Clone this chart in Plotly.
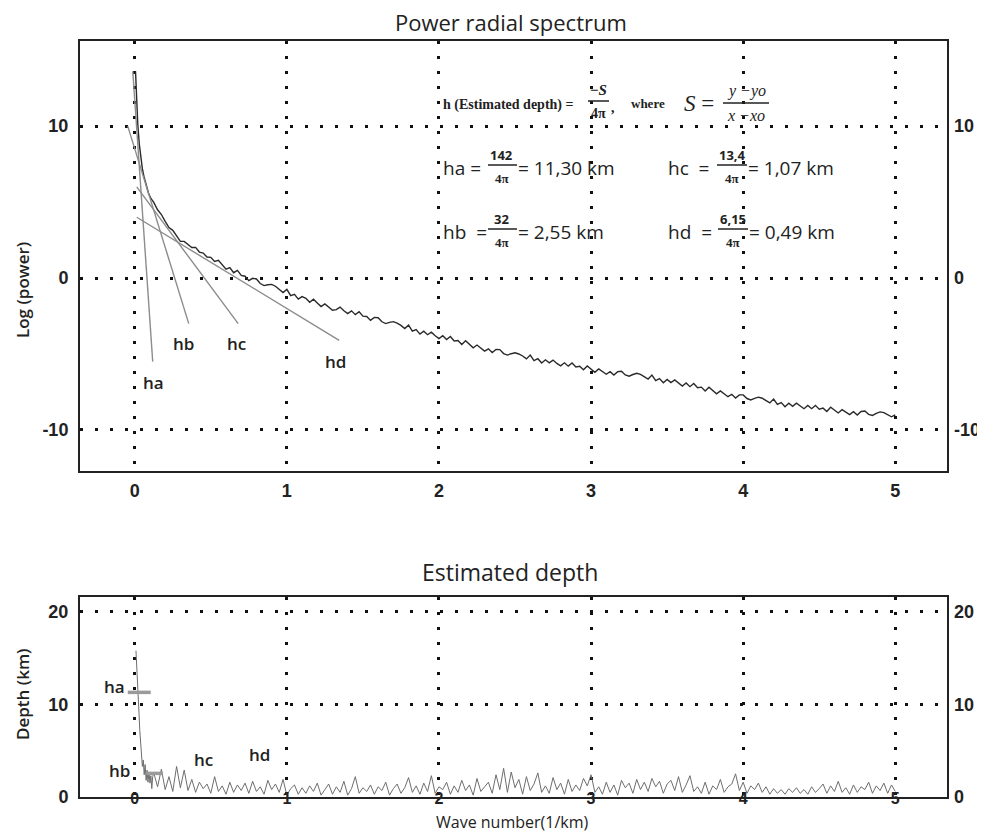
import plotly.graph_objects as go

# page offset of the figure inside the browser body (default 8px body margin)
OFF = 8
W, H = 977, 825

# ---------------- data ----------------
# Power radial spectrum: steep initial part (irregular sampling)
pow_x_head = [0.005, 0.01, 0.015, 0.02, 0.03, 0.04, 0.05, 0.06, 0.075, 0.09, 0.105]
pow_y_head = [13.6, 12.4, 11.2, 10.1, 8.8, 7.9, 7.2, 6.7, 6.05, 5.6, 5.25]
# then regular sampling every 0.025 from 0.125 to 5.0
POW_X0, POW_DX = 0.125, 0.025
pow_y_tail = [
    4.98, 4.49, 4.18, 3.73, 3.32, 3.14, 2.78, 2.41,
    2.41, 2.22, 2.01, 2.02, 1.71, 1.64, 1.38, 1.36,
    1.09, 1.17, 0.85, 0.58, 0.68, 0.35, 0.50, 0.17,
    0.12, -0.17, -0.02, -0.06, -0.36, -0.50, -0.44, -0.42,
    -0.54, -0.72, -0.96, -0.75, -1.16, -1.07, -1.39, -1.22,
    -1.33, -1.60, -1.39, -1.64, -1.88, -1.70, -1.91, -2.12,
    -2.08, -1.91, -2.15, -2.34, -2.16, -2.41, -2.22, -2.51,
    -2.53, -2.79, -2.59, -2.61, -2.88, -3.00, -2.92, -2.87,
    -2.97, -3.12, -3.33, -3.10, -3.49, -3.39, -3.69, -3.50,
    -3.73, -3.56, -3.80, -3.99, -3.80, -4.05, -3.85, -4.14,
    -4.11, -4.37, -4.13, -4.36, -4.59, -4.41, -4.61, -4.81,
    -4.66, -4.90, -4.70, -4.71, -4.97, -5.07, -4.98, -4.92,
    -5.00, -5.13, -5.32, -5.07, -5.43, -5.31, -5.59, -5.38,
    -5.58, -5.40, -5.62, -5.78, -5.58, -5.80, -5.59, -5.85,
    -5.81, -6.04, -5.79, -5.99, -6.20, -5.98, -6.16, -6.33,
    -6.16, -6.38, -6.16, -6.14, -6.38, -6.46, -6.35, -6.27,
    -6.34, -6.47, -6.65, -6.39, -6.75, -6.62, -6.89, -6.67,
    -6.88, -6.71, -6.93, -7.11, -6.91, -7.15, -6.94, -7.22,
    -7.18, -7.43, -7.19, -7.40, -7.62, -7.43, -7.62, -7.81,
    -7.65, -7.90, -7.69, -7.69, -7.93, -8.02, -7.92, -7.84,
    -7.91, -8.04, -8.22, -7.96, -8.32, -8.20, -8.47, -8.24,
    -8.44, -8.24, -8.45, -8.60, -8.39, -8.60, -8.38, -8.63,
    -8.56, -8.78, -8.50, -8.69, -8.88, -8.66, -8.82, -8.99,
    -8.80, -9.02, -8.78, -8.75, -8.97, -9.04, -8.91, -8.81,
    -8.86, -8.97, -9.13, -9.00,
]

# Tangent (slope) lines on the spectrum: [x0, x1], [y0, y1]
tangent_names = ["ha", "hb", "hc", "hd"]
tangent_x = [[-0.013, 0.118], [-0.046, 0.355], [0.013, 0.68], [0.013, 1.344]]
tangent_y = [[13.6, -5.5], [10.0, -3.0], [6.0, -3.0], [4.0, -4.1]]
tangent_label_x = [0.125, 0.32, 0.67, 1.32]
tangent_label_y = [-6.85, -4.3, -4.3, -5.5]

# Estimated depth
dep_x_head = [0.008, 0.012, 0.018, 0.022, 0.028, 0.033, 0.038, 0.044, 0.05, 0.056,
              0.062, 0.068, 0.075, 0.081, 0.087, 0.094, 0.1, 0.106, 0.112, 0.118]
dep_y_head = [15.8, 14.0, 12.2, 11.5, 9.0, 7.2, 5.6, 4.0, 3.3, 4.0,
              2.4, 3.5, 1.8, 2.9, 1.6, 2.7, 1.5, 2.3, 0.9, 2.2]
DEP_X0, DEP_DX = 0.125, 0.025
dep_y_tail = [
    2.6, 1.1, 3.0, 0.8, 2.2, 0.6, 3.3, 1.0,
    2.9, 0.7, 1.9, 0.5, 1.6, 0.9, 1.4, 0.4,
    2.2, 0.6, 1.2, 0.3, 1.6, 0.5, 1.3, 0.7,
    1.5, 0.4, 1.7, 0.6, 1.1, 0.3, 1.8, 0.8,
    1.4, 0.5, 1.9, 0.2, 0.9, 1.3, 0.3, 1.0,
    0.4, 1.2, 0.6, 1.5, 0.2, 0.8, 1.4, 0.3,
    1.1, 0.5, 1.7, 0.2, 0.9, 2.2, 0.4, 1.0,
    0.6, 1.3, 0.3, 1.1, 0.7, 1.6, 0.2, 0.9,
    1.4, 0.4, 1.0, 2.1, 0.5, 1.2, 0.3, 1.5,
    0.6, 2.3, 0.4, 1.1, 0.8, 1.6, 0.3, 1.2,
    0.5, 1.8, 0.7, 1.3, 0.2, 2.0, 0.6, 1.1,
    1.6, 0.4, 2.4, 0.8, 3.1, 0.5, 2.7, 1.0,
    1.9, 0.3, 2.2, 0.7, 1.4, 2.6, 0.5, 1.2,
    0.4, 2.1, 0.8, 1.5, 0.3, 1.9, 0.6, 1.3,
    0.7, 2.0, 1.2, 2.4, 0.5, 1.1, 0.3, 1.6,
    0.5, 1.3, 0.2, 1.8, 1.0, 1.5, 0.4, 1.9,
    0.8, 1.6, 0.6, 2.0, 1.1, 1.7, 0.4, 1.4,
    1.8, 0.7, 2.2, 0.5, 1.3, 2.3, 0.6, 1.1,
    0.4, 1.6, 0.3, 1.2, 0.8, 1.9, 0.5, 1.1,
    1.4, 2.5, 0.7, 1.6, 0.4, 1.2, 0.8, 1.5,
    0.5, 1.1, 0.3, 0.9, 0.4, 0.8, 0.3, 0.9,
    0.5, 1.0, 0.4, 0.8, 0.3, 1.1, 0.5, 0.9,
    1.4, 0.4, 1.2, 0.6, 1.7, 0.5, 1.0, 0.3,
    1.3, 0.5, 1.1, 0.8, 1.6, 0.4, 1.2, 0.7,
    1.5, 0.4, 1.3, 0.6,
]

# Depth markers (estimated depth levels) in lower panel
marker_x = [[-0.046, 0.105], [0.077, 0.186]]
marker_y = [[11.3, 11.3], [2.55, 2.55]]
depth_label_text = ["ha", "hb", "hc", "hd"]
depth_label_x = [-0.13, -0.10, 0.45, 0.82]
depth_label_y = [11.9, 2.9, 4.0, 4.6]

x_ticks = [0, 1, 2, 3, 4, 5]
pow_ticks = [-10, 0, 10]
pow_ticktext = ["-10", "0", "10"]
dep_ticks = [0, 10, 20]
dep_ticktext = ["0", "10", "20"]

# ---------------- build ----------------
pow_x = pow_x_head + [round(POW_X0 + i * POW_DX, 4) for i in range(len(pow_y_tail))]
pow_y = pow_y_head + pow_y_tail
dep_x = dep_x_head + [round(DEP_X0 + i * DEP_DX, 4) for i in range(len(dep_y_tail))]
dep_y = dep_y_head + dep_y_tail

def px(x):
    return (x - OFF) / W

def py(y):
    return 1 - (y - OFF) / H

fig = go.Figure()

fig.add_trace(go.Scatter(x=pow_x, y=pow_y, mode="lines",
                         line=dict(color="#2a2a2a", width=1.4),
                         xaxis="x", yaxis="y", hoverinfo="skip", showlegend=False))
for xs, ys in zip(tangent_x, tangent_y):
    fig.add_trace(go.Scatter(x=xs, y=ys, mode="lines",
                             line=dict(color="#8c8c8c", width=1.4),
                             xaxis="x", yaxis="y3", hoverinfo="skip", showlegend=False))

fig.add_trace(go.Scatter(x=dep_x, y=dep_y, mode="lines",
                         line=dict(color="#6e6e6e", width=1.0),
                         xaxis="x2", yaxis="y2", hoverinfo="skip", showlegend=False))
for xs, ys in zip(marker_x, marker_y):
    fig.add_trace(go.Scatter(x=xs, y=ys, mode="lines",
                             line=dict(color="#9a9a9a", width=3.5),
                             xaxis="x2", yaxis="y4", hoverinfo="skip", showlegend=False))

XR = [-0.36, 5.34]
DOM_X = [px(80), px(947)]
TOP_DOM = [py(471), py(41)]
BOT_DOM = [py(797), py(597)]

grid = dict(showgrid=True, gridcolor="#111", gridwidth=3, griddash="3px,12px")
frame = dict(showline=True, linecolor="#222", linewidth=2, mirror=True, zeroline=False,
             ticks="", automargin=False)
ytickfont = dict(family="Liberation Sans, Arial", size=18, color="#222", weight="bold")
xtickfont = dict(family="Liberation Sans Narrow, Arial Narrow, Liberation Sans", size=18,
                 color="#222", weight="bold")
xtickfont2 = dict(family="Liberation Sans Narrow, Arial Narrow, Liberation Sans", size=16,
                  color="#222", weight="bold")

fig.update_layout(
    width=W, height=H,
    margin=dict(l=0, r=0, t=0, b=0),
    paper_bgcolor="white", plot_bgcolor="white",
    showlegend=False, hovermode=False,
    font=dict(family="Open Sans", color="#222"),
    xaxis=dict(domain=DOM_X, range=XR, anchor="y", tickvals=x_ticks,
               tickfont=xtickfont, ticklabelstandoff=2, **grid, **frame),
    yaxis=dict(domain=TOP_DOM, range=[-12.7, 15.6], anchor="x", tickvals=pow_ticks,
               ticktext=pow_ticktext, tickfont=ytickfont, ticklabelstandoff=6,
               **grid, **frame),
    yaxis3=dict(range=[-12.7, 15.6], overlaying="y", anchor="x", side="right",
                tickvals=pow_ticks, ticktext=pow_ticktext, tickfont=ytickfont,
                ticklabelstandoff=6, showgrid=False, showline=False, zeroline=False,
                ticks="", automargin=False),
    xaxis2=dict(domain=DOM_X, range=XR, anchor="y2", tickvals=x_ticks,
                tickfont=xtickfont2, ticklabelstandoff=-14, **grid, **frame),
    yaxis2=dict(domain=BOT_DOM, range=[0, 21.6], anchor="x2", tickvals=dep_ticks,
                ticktext=dep_ticktext, tickfont=ytickfont, ticklabelstandoff=6,
                **grid, **frame),
    yaxis4=dict(range=[0, 21.6], overlaying="y2", anchor="x2", side="right",
                tickvals=dep_ticks, ticktext=dep_ticktext, tickfont=ytickfont,
                ticklabelstandoff=6, showgrid=False, showline=False, zeroline=False,
                ticks="", automargin=False),
)

# labels on tangents
for t, x, y in zip(tangent_names, tangent_label_x, tangent_label_y):
    fig.add_annotation(text=t, x=x, y=y, xref="x", yref="y", showarrow=False,
                       font=dict(family="Open Sans", size=17, color="#222", weight=600))
for t, x, y in zip(depth_label_text, depth_label_x, depth_label_y):
    fig.add_annotation(text=t, x=x, y=y, xref="x2", yref="y2", showarrow=False,
                       font=dict(family="Open Sans", size=17, color="#222", weight=600))

def ann(text, x, y, size, family="Open Sans", weight="normal", style="normal",
        xanchor="center", yanchor="middle", angle=0, color="#222"):
    fig.add_annotation(text=text, x=px(x), y=py(y), xref="paper", yref="paper",
                       showarrow=False, xanchor=xanchor, yanchor=yanchor, textangle=angle,
                       borderpad=0,
                       font=dict(family=family, size=size, weight=weight, style=style,
                                 color=color))

def bar(x0, x1, y):
    fig.add_shape(type="line", xref="paper", yref="paper", x0=px(x0), x1=px(x1),
                  y0=py(y), y1=py(y), line=dict(color="#222", width=1.5))

# titles
ann("Power radial spectrum", 511, 22, 22)
ann("Estimated depth", 510, 572, 23)
ann("Log (power)", 22, 290, 17, weight=600, angle=-90)
ann("Depth (km)", 22, 694, 17, weight=600, angle=-90)
ann("Wave number(1/km)", 512, 822, 16)

SERIF = "Liberation Serif, Times New Roman"
# formula row 1
ann("h (Estimated depth) =", 442, 105, 14, family=SERIF, weight="bold", xanchor="left")
ann("−<i>S</i>", 598, 90, 15, family=SERIF, weight="bold")
bar(588, 609, 101)
ann("4π", 598, 114, 14, family=SERIF, weight="bold")
ann(",", 613, 107, 14, family=SERIF, weight="bold")
ann("where", 630, 104, 13, family=SERIF, weight="bold", xanchor="left")
ann("<i>S</i> =", 683, 104, 23, family=SERIF, xanchor="left")
ann("<i>y −yo</i>", 746, 91, 16, family=SERIF)
bar(723, 769, 103)
ann("<i>x −xo</i>", 746, 116, 16, family=SERIF)

# formula rows 2-3
rows = [
    ("ha =", "142", "= 11,30 km", 442, 502, 488, 517, 168),
    ("hc\u00a0 =", "13,4", "= 1,07 km", 667, 732, 717, 747, 168),
    ("hb\u00a0 =", "32", "= 2,55 km", 442, 502, 488, 517, 232),
    ("hd\u00a0 =", "6,15", "= 0,49 km", 667, 733, 718, 748, 232),
]
for lhs, num, rhs, xl, xc, b0, b1, yc in rows:
    ann(lhs, xl, yc, 19, xanchor="left")
    ann(num, xc, yc - 13, 13, weight="bold")
    bar(b0, b1, yc - 3)
    ann("4π", xc, yc + 10, 13, family=SERIF, weight="bold")
    ann(rhs, b1, yc, 19, xanchor="left")

fig.write_html("out.html")
